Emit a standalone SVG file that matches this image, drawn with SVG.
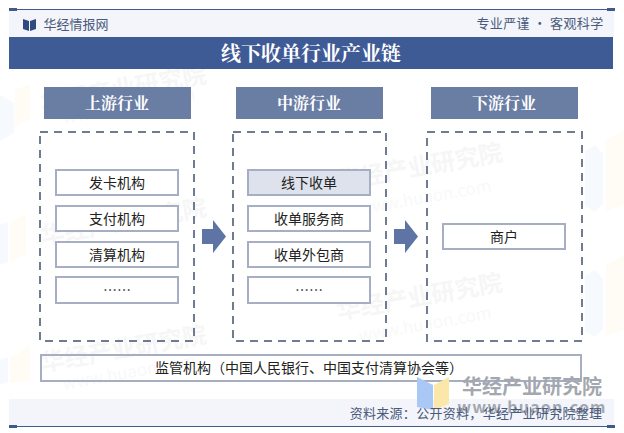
<svg xmlns="http://www.w3.org/2000/svg" width="624" height="433" viewBox="0 0 624 433">
<style>
text{font-family:"Noto Sans CJK SC","Liberation Sans",sans-serif;text-anchor:middle}
.hdr{fill:#6a7da3}
.hdt{fill:#fff;font-size:16px;font-family:"Noto Serif CJK SC","Noto Sans CJK SC",serif;font-weight:700}
.dash{fill:none;stroke:#6f7b91;stroke-width:2;stroke-dasharray:8 6}
.item{fill:#fff;stroke:#a5aec2;stroke-width:2}
.it{fill:#222;font-size:14px}
.arr{fill:#5d74a4}
.wm{fill:#8a8f99;opacity:.07;font-weight:700;font-size:24px}
.wm2{fill:#8a8f99;opacity:.05;font-size:17px}
.hex1{fill:#c5d8f5;opacity:.16}
.hex2{fill:#fbeeb8;opacity:.16}
</style>
<rect width="624" height="433" fill="#fff"/>
<g id="watermarks">
<path class="hex1" d="M0 95l14 8v30l-14 8z"/><path class="hex2" d="M15 90l15-6v35l-15 8z"/>
<path class="hex1" d="M0 225l8-3v40l-8 3z"/><path class="hex2" d="M10 222l16-8v40l-16 8z"/>
<path class="hex1" d="M0 360l8-3v25l-8 3z"/><path class="hex2" d="M10 358l20-12v35l-20 2z"/>
<path class="hex1" d="M595 145l-10 6v55l10 6 8-8v-50z"/><path class="hex2" d="M606 140l18-10v75l-18 6z"/>
<path class="hex1" d="M595 270l-10 6v55l10 6 8-8v-50z"/><path class="hex2" d="M606 265l18-10v75l-18 6z"/>
<text class="wm" x="125" y="97" transform="rotate(-10 125 97)">华经产业研究院</text>
<text class="wm2" x="130" y="112" transform="rotate(-10 130 112)">www.huaon.com</text>
<text class="wm" x="125" y="230" transform="rotate(-10 125 230)">华经产业研究院</text>
<text class="wm" x="125" y="357" transform="rotate(-10 125 357)">华经产业研究院</text>
<text class="wm2" x="130" y="378" transform="rotate(-10 130 378)">www.huaon.com</text>
<text class="wm" x="421" y="175" transform="rotate(-10 421 175)">华经产业研究院</text>
<text class="wm2" x="426" y="203" transform="rotate(-10 426 203)">www.huaon.com</text>
<text class="wm" x="421" y="305" transform="rotate(-10 421 305)">华经产业研究院</text>
<text class="wm2" x="426" y="330" transform="rotate(-10 426 330)">www.huaon.com</text>
</g>
<g id="header">
<rect x="9" y="10" width="605" height="27" fill="#f3f5fa"/>
<rect x="10" y="9" width="604" height="1" fill="#3f5b8c"/>
<rect x="9" y="8" width="8" height="3" fill="#3f5b8c"/>
<rect x="607" y="8" width="8" height="3" fill="#3f5b8c"/>
<path d="M23 19l6 2v10l-6-2zM36 19l-6 2v10l6-2z" fill="#2f4a80"/>
<text x="76" y="29" style="font-size:13px;fill:#4a5a7c">华经情报网</text>
<text x="540" y="28" style="font-size:13px;fill:#4a5a7c;letter-spacing:.4px">专业严谨 • 客观科学</text>
</g>
<g id="title">
<rect x="9" y="37" width="604" height="32" fill="#3f5b96"/>
<text x="311" y="61" style="font-size:20px;fill:#fff;font-weight:700;font-family:'Noto Serif CJK SC','Noto Sans CJK SC',serif">线下收单行业产业链</text>
</g>
<g id="upstream">
<rect class="hdr" x="44" y="87" width="147" height="32"/>
<text class="hdt" x="117" y="109">上游行业</text>
<rect class="dash" x="40" y="132" width="154" height="209"/>
</g>
<g id="midstream">
<rect class="hdr" x="236" y="87" width="147" height="32"/>
<text class="hdt" x="309" y="109">中游行业</text>
<rect class="dash" x="233" y="132" width="153" height="209"/>
</g>
<g id="downstream">
<rect class="hdr" x="431" y="87" width="147" height="32"/>
<text class="hdt" x="504" y="109">下游行业</text>
<rect class="dash" x="427" y="132" width="155" height="209"/>
</g>
<g id="n1"><rect class="item" x="56" y="170" width="122" height="25"/><text class="it" x="117" y="188">发卡机构</text></g>
<g id="n2"><rect class="item" x="56" y="206" width="122" height="25"/><text class="it" x="117" y="224">支付机构</text></g>
<g id="n3"><rect class="item" x="56" y="242" width="122" height="25"/><text class="it" x="117" y="260">清算机构</text></g>
<g id="n4"><rect class="item" x="56" y="277" width="122" height="26"/><text class="it" x="117" y="295">……</text></g>
<g id="n5"><rect class="item" x="248" y="170" width="122" height="25" style="fill:#dde2ec"/><text class="it" x="309" y="188">线下收单</text></g>
<g id="n6"><rect class="item" x="248" y="206" width="122" height="25"/><text class="it" x="309" y="224">收单服务商</text></g>
<g id="n7"><rect class="item" x="248" y="242" width="122" height="25"/><text class="it" x="309" y="260">收单外包商</text></g>
<g id="n8"><rect class="item" x="248" y="277" width="122" height="26"/><text class="it" x="309" y="295">……</text></g>
<g id="n9"><rect class="item" x="443" y="224" width="122" height="25"/><text class="it" x="504" y="242">商户</text></g>
<g id="n10"><rect class="item" x="41" y="355" width="540" height="26" style="fill:none"/><text class="it" x="309" y="373">监管机构（中国人民银行、中国支付清算协会等）</text></g>
<g id="connectors">
<path class="arr" d="M202 229h11v-9l13 16.500-13 16.500v-9h-11z"/>
<path class="arr" d="M394 229h11v-9l13 16.500-13 16.500v-9h-11z"/>
</g>
<g id="footer">
<rect x="9" y="399" width="605" height="27" fill="#f3f5fa"/>
<rect x="10" y="426" width="604" height="1" fill="#3f5b8c"/>
<rect x="9" y="425" width="8" height="3" fill="#3f5b8c"/>
<rect x="607" y="425" width="8" height="3" fill="#3f5b8c"/>
<path d="M417 377l16 8v25l-16-3z" fill="#a9c8f5"/>
<path d="M434 385l15-8v27l-15 6z" fill="#fbe8a8"/>
<text x="532" y="394" style="font-size:20px;fill:#a3a8b0;font-weight:700">华经产业研究院</text>
<text x="532" y="413" style="font-size:16px;fill:#a3a8b0;font-weight:700;letter-spacing:1.200px">www.huaon.com</text>
<text x="476" y="418" style="font-size:13px;fill:#4a5a7c;letter-spacing:.3px">资料来源：公开资料，华经产业研究院整理</text>
</g>
</svg>
